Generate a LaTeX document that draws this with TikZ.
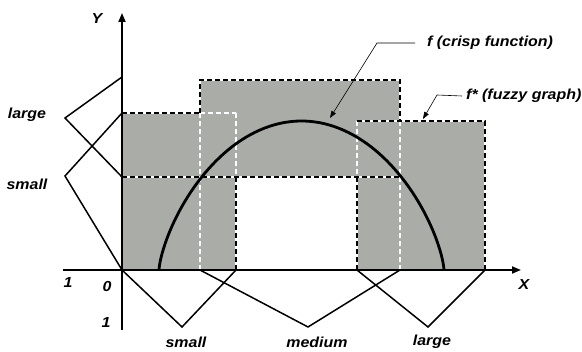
\documentclass[tikz,border=0pt]{standalone}
\usepackage{fontspec}
\newfontfamily\lblfont{Liberation Sans}[FakeStretch=1.1]
\usetikzlibrary{arrows.meta}
\definecolor{fz}{RGB}{170,172,168}
\begin{document}
\begin{tikzpicture}[x=1pt,y=-1pt,
  lbl/.style={font=\lblfont\bfseries\itshape\fontsize{14.5}{16}\selectfont, inner sep=0pt},
  bw/.style={line width=1.2pt, dash pattern=on 5pt off 3pt, preaction={draw=white, line width=1.2pt, solid}},
  wd/.style={draw=white, line width=1.1pt, dash pattern=on 5pt off 3pt},
  mf/.style={line width=1.5pt, line join=miter},
  axis/.style={line width=1.7pt, -{Triangle[length=9pt,width=7pt]}},
  lead/.style={line width=0.6pt, -{Triangle[length=7pt,width=5pt]}}]
\useasboundingbox (0,0) rectangle (582,352);
% gray fuzzy graph
\fill[fz] (122,113) rectangle (236,270);
\fill[fz] (200,80) rectangle (400,177);
\fill[fz] (357,121) rectangle (485,270);
% dashed outlines
\draw[wd] (200,113) -- (236,113);
\draw[wd] (236,113) -- (236,177);
\draw[wd] (200,113) -- (200,270);
\draw[wd] (400,121) -- (400,270);
\draw[wd] (357,121) -- (357,177);
\draw[bw] (122,113) -- (200,113);
\draw[bw] (236,177) -- (236,270);
\draw[bw] (200,113) -- (200,80) -- (400,80) -- (400,121);
\draw[bw] (122,177) -- (400,177);
\draw[bw] (357,270) -- (357,177);
\draw[bw] (357,121) -- (485,121) -- (485,270);
% crisp function
\draw[line width=2.8pt] (159,270) -- plot[domain=1:179, samples=90] ({301.5-142.5*cos(\x)},{270-149*pow(sin(\x),1.4)}) -- (444,270);
% membership functions on Y
\draw[mf] (122,77) -- (65,118) -- (122,177);
\draw[mf] (122,113) -- (65,176) -- (122,270);
% membership functions on X
\draw[mf] (122,270) -- (182,327) -- (236,270);
\draw[mf] (200,270) -- (308,327) -- (400,270);
\draw[mf] (357,270) -- (428,327) -- (485,270);
% axes
\coordinate (ybot) at (122,330);
\coordinate (ytop) at (122,13);
\coordinate (xl) at (63,270);
\coordinate (xr) at (521,270);
\draw[axis] (ybot) -- (ytop);
\draw[axis] (xl) -- (xr);
% labels
\node[lbl] (Y) at (97,19) {Y};
\node[lbl] (X) at (524,285) {X};
\node[lbl] (one1) at (68,283) {1};
\node[lbl] (zero) at (107,287) {0};
\node[lbl] (one2) at (106,323) {1};
\node[lbl] (ylarge) at (27,115) {large};
\node[lbl] (ysmall) at (27,184) {small};
\node[lbl] (xsmall) at (186,342) {small};
\node[lbl] (xmed) at (317,342) {medium};
\node[lbl] (xlarge) at (432,342) {large};
\node[lbl, anchor=west] (fcrisp) at (427,43) {f (crisp function)};
\node[lbl, anchor=west] (ffuzzy) at (466,96) {f* (fuzzy graph)};
% leaders
\coordinate (fbend) at (377,43);
\coordinate (ftip) at (330,118);
\coordinate (gbend) at (437,95);
\coordinate (gtip) at (423,119);
\draw[lead] ([xshift=-12pt]fcrisp.west) -- (fbend) -- (ftip);
\draw[lead] ([xshift=-4pt]ffuzzy.west) -- (gbend) -- (gtip);
\end{tikzpicture}
\end{document}
